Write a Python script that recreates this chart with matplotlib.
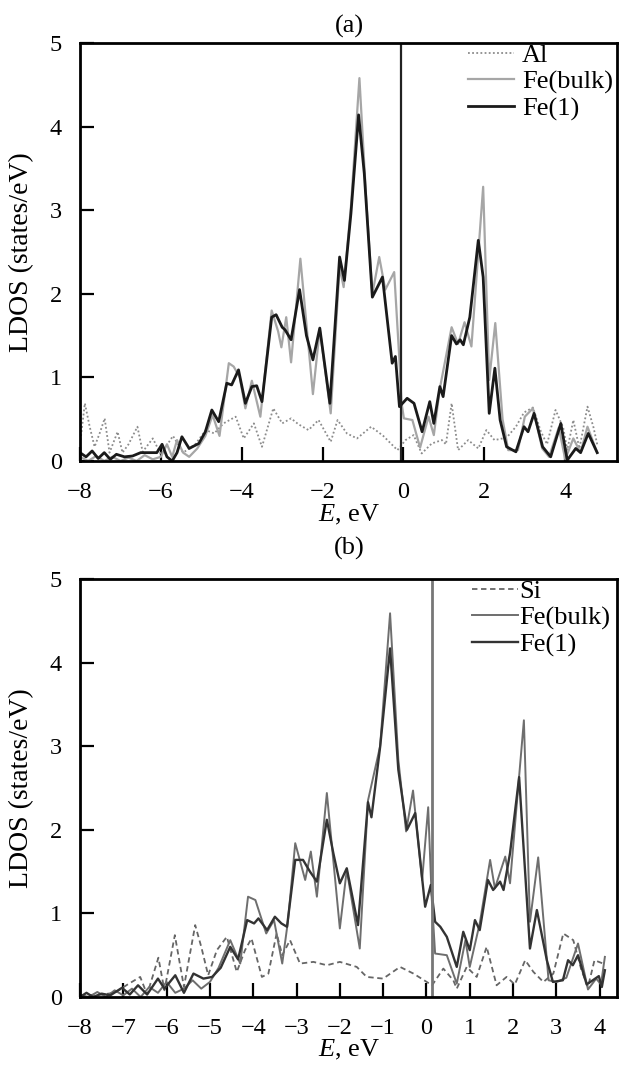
import matplotlib
matplotlib.use('Agg')
import matplotlib.pyplot as plt

plt.rcParams['font.family'] = ['Liberation Serif', 'DejaVu Serif']
plt.rcParams['mathtext.fontset'] = 'custom'
plt.rcParams['mathtext.rm'] = 'Liberation Serif'
plt.rcParams['mathtext.it'] = 'Liberation Serif:italic'

# ---- panel (a): Fe/Al ----
a_fe1_x = [-8.0, -7.85, -7.7, -7.55, -7.4, -7.25, -7.1, -6.9, -6.7, -6.5, -6.3, -6.1, -5.97, -5.85, -5.72,
           -5.6, -5.48, -5.3, -5.06, -4.9, -4.74, -4.57, -4.37, -4.25, -4.08, -3.91, -3.75, -3.63, -3.5,
           -3.26, -3.15, -3.0, -2.93, -2.78, -2.57, -2.4, -2.24, -2.07, -1.82, -1.58, -1.46, -1.3, -1.11,
           -0.97, -0.77, -0.52, -0.28, -0.2, -0.1, 0.09, 0.26, 0.46, 0.65, 0.75, 0.9, 0.98, 1.19, 1.31,
           1.4, 1.48, 1.64, 1.85, 1.97, 2.12, 2.26, 2.39, 2.55, 2.78, 2.98, 3.08, 3.23, 3.44, 3.64, 3.89,
           4.05, 4.26, 4.38, 4.57, 4.79]
a_fe1_y = [0.1, 0.05, 0.12, 0.03, 0.1, 0.02, 0.08, 0.05, 0.06, 0.1, 0.1, 0.1, 0.2, 0.05, 0.0,
           0.1, 0.29, 0.15, 0.21, 0.35, 0.61, 0.47, 0.93, 0.91, 1.09, 0.69, 0.89, 0.9, 0.71,
           1.72, 1.75, 1.6, 1.57, 1.45, 2.05, 1.5, 1.21, 1.59, 0.69, 2.44, 2.16, 2.96, 4.14,
           3.44, 1.96, 2.2, 1.17, 1.25, 0.65, 0.75, 0.69, 0.35, 0.71, 0.45, 0.89, 0.77, 1.5, 1.4,
           1.45, 1.39, 1.72, 2.64, 2.2, 0.57, 1.11, 0.49, 0.17, 0.11, 0.41, 0.35, 0.57, 0.17, 0.05, 0.45,
           0.01, 0.15, 0.1, 0.33, 0.1]

a_bulk_x = [-8.0, -7.8, -7.6, -7.4, -7.2, -7.0, -6.8, -6.6, -6.4, -6.2, -6.0, -5.85, -5.72, -5.6, -5.45,
            -5.3, -5.1, -4.9, -4.72, -4.55, -4.32, -4.2, -4.05, -3.91, -3.75, -3.54, -3.26, -3.1, -3.02,
            -2.9, -2.78, -2.55, -2.24, -2.07, -1.8, -1.58, -1.48, -1.3, -1.09, -0.93, -0.77, -0.6, -0.45,
            -0.23, -0.1, -0.05, 0.01, 0.22, 0.41, 0.62, 0.75, 0.9, 1.19, 1.35, 1.51, 1.68, 1.97, 2.12,
            2.27, 2.45, 2.59, 2.83, 3.0, 3.2, 3.43, 3.6, 3.84, 4.0, 4.2, 4.38, 4.55, 4.79]
a_bulk_y = [0.05, 0.0, 0.06, 0.0, 0.05, 0.0, 0.04, 0.0, 0.07, 0.02, 0.05, 0.2, 0.05, 0.25, 0.1,
            0.05, 0.15, 0.3, 0.55, 0.3, 1.17, 1.13, 1.0, 0.63, 0.96, 0.53, 1.8, 1.55, 1.36,
            1.72, 1.18, 2.42, 0.8, 1.58, 0.57, 2.32, 2.08, 3.04, 4.58, 3.2, 2.0, 2.44, 2.05,
            2.26, 1.2, 0.7, 0.51, 0.49, 0.16, 0.53, 0.31, 0.87, 1.6, 1.4, 1.66, 1.37, 3.28, 0.97,
            1.65, 0.5, 0.13, 0.13, 0.53, 0.63, 0.15, 0.05, 0.4, 0.02, 0.27, 0.1, 0.41, 0.1]

a_al_x = [-8.0, -7.88, -7.76, -7.64, -7.5, -7.39, -7.27, -7.07, -6.95, -6.8, -6.58, -6.45, -6.2, -6.0,
          -5.7, -5.45, -5.15, -4.89, -4.68, -4.45, -4.15, -3.95, -3.7, -3.5, -3.22, -3.0, -2.78, -2.6,
          -2.35, -2.1, -1.8, -1.63, -1.4, -1.15, -0.8, -0.5, -0.15, 0.05, 0.25, 0.45, 0.7, 0.95, 1.05,
          1.19, 1.35, 1.6, 1.85, 2.05, 2.25, 2.55, 2.78, 2.98, 3.2, 3.4, 3.55, 3.76, 3.95, 4.05, 4.2,
          4.35, 4.55, 4.7, 4.79]
a_al_y = [0.2, 0.69, 0.41, 0.17, 0.35, 0.51, 0.1, 0.35, 0.1, 0.2, 0.41, 0.11, 0.27, 0.08,
          0.3, 0.1, 0.2, 0.37, 0.33, 0.45, 0.53, 0.27, 0.45, 0.17, 0.63, 0.45, 0.51, 0.44,
          0.37, 0.49, 0.23, 0.49, 0.33, 0.27, 0.41, 0.3, 0.13, 0.25, 0.31, 0.09, 0.21, 0.25, 0.2,
          0.69, 0.13, 0.25, 0.15, 0.37, 0.25, 0.28, 0.41, 0.58, 0.64, 0.35, 0.2, 0.61, 0.4, 0.13, 0.49,
          0.15, 0.65, 0.4, 0.2]

# ---- panel (b): Fe/Si ----
b_fe1_x = [-8.0, -7.85, -7.7, -7.5, -7.3, -7.03, -6.85, -6.66, -6.45, -6.2, -6.05, -5.8, -5.6, -5.38,
           -5.15, -4.95, -4.75, -4.53, -4.35, -4.14, -3.98, -3.88, -3.68, -3.5, -3.35, -3.22, -3.03,
           -2.85, -2.69, -2.53, -2.3, -2.15, -2.0, -1.84, -1.58, -1.35, -1.27, -1.07, -0.84, -0.65,
           -0.45, -0.26, -0.03, 0.1, 0.2, 0.32, 0.47, 0.7, 0.85, 1.0, 1.12, 1.23, 1.42, 1.54, 1.7,
           1.78, 1.93, 2.14, 2.39, 2.55, 2.78, 2.92, 3.15, 3.27, 3.38, 3.5, 3.7, 3.98, 4.05, 4.12]
b_fe1_y = [0.0, 0.05, 0.0, 0.04, 0.02, 0.11, 0.03, 0.14, 0.03, 0.22, 0.1, 0.26, 0.05, 0.28,
           0.22, 0.24, 0.35, 0.6, 0.45, 0.92, 0.88, 0.94, 0.8, 0.96, 0.88, 0.84, 1.64,
           1.64, 1.5, 1.38, 2.12, 1.72, 1.36, 1.54, 0.86, 2.33, 2.15, 2.99, 4.17, 2.72,
           2.0, 2.2, 1.08, 1.34, 0.9, 0.84, 0.72, 0.36, 0.78, 0.56, 0.92, 0.8, 1.4, 1.28, 1.38,
           1.28, 1.72, 2.63, 0.58, 1.04, 0.44, 0.18, 0.2, 0.44, 0.38, 0.5, 0.15, 0.25, 0.12, 0.32]

b_bulk_x = [-8.0, -7.8, -7.6, -7.4, -7.2, -7.0, -6.8, -6.6, -6.4, -6.2, -6.0, -5.8, -5.6, -5.4, -5.2,
            -5.0, -4.8, -4.53, -4.3, -4.12, -3.95, -3.7, -3.52, -3.33, -3.2, -3.03, -2.8, -2.67, -2.53,
            -2.3, -2.0, -1.84, -1.54, -1.35, -1.07, -0.84, -0.65, -0.47, -0.31, -0.1, 0.04, 0.12, 0.2,
            0.47, 0.7, 0.9, 1.0, 1.23, 1.47, 1.58, 1.82, 1.93, 2.25, 2.39, 2.58, 2.82, 3.0, 3.23, 3.5,
            3.73, 3.92, 4.03, 4.12]
b_bulk_y = [0.02, 0.0, 0.06, 0.0, 0.08, 0.02, 0.1, 0.0, 0.12, 0.05, 0.18, 0.05, 0.1, 0.2, 0.1,
            0.18, 0.35, 0.68, 0.4, 1.2, 1.16, 0.76, 0.92, 0.4, 0.9, 1.84, 1.4, 1.74, 1.2,
            2.44, 0.82, 1.52, 0.58, 2.35, 3.0, 4.59, 2.84, 1.98, 2.47, 1.4, 2.27, 1.2, 0.52,
            0.5, 0.16, 0.68, 0.36, 0.88, 1.64, 1.3, 1.68, 1.36, 3.31, 0.9, 1.67, 0.2, 0.18, 0.23, 0.64,
            0.09, 0.22, 0.15, 0.48]

b_si_x = [-8.0, -7.5, -7.2, -6.9, -6.61, -6.45, -6.19, -6.05, -5.81, -5.6, -5.34, -5.2, -5.04, -4.84,
          -4.61, -4.38, -4.19, -4.04, -3.8, -3.65, -3.46, -3.33, -3.15, -2.92, -2.61, -2.3, -2.0, -1.61,
          -1.38, -1.0, -0.61, -0.3, 0.13, 0.39, 0.62, 0.7, 0.93, 1.16, 1.39, 1.62, 1.85, 2.04, 2.28,
          2.47, 2.7, 2.93, 3.16, 3.39, 3.58, 3.73, 3.88, 4.08]
b_si_y = [0.02, 0.03, 0.05, 0.15, 0.24, 0.03, 0.47, 0.08, 0.74, 0.12, 0.86, 0.6, 0.26, 0.56,
          0.72, 0.3, 0.56, 0.7, 0.24, 0.28, 0.76, 0.5, 0.68, 0.4, 0.42, 0.38, 0.42, 0.36,
          0.24, 0.22, 0.36, 0.28, 0.14, 0.34, 0.2, 0.1, 0.36, 0.24, 0.6, 0.14, 0.24, 0.15, 0.44,
          0.3, 0.18, 0.28, 0.76, 0.68, 0.32, 0.12, 0.44, 0.4]

fermi_a = -0.05
fermi_b = 0.12

fig = plt.figure(figsize=(6.22, 10.65), dpi=100)
W, H = 622, 1065


def px_axes(l, t, r, b):
    return [l / W, 1 - b / H, (r - l) / W, (b - t) / H]


ax1 = fig.add_axes(px_axes(80, 43, 617, 461))
ax2 = fig.add_axes(px_axes(80, 579, 617, 997))

ax1.plot(a_al_x, a_al_y, color='#8c8c8c', ls=(0, (1, 1.3)), lw=1.3, label='Al')
ax1.plot(a_bulk_x, a_bulk_y, color='#a6a6a6', lw=1.6, label='Fe(bulk)')
ax1.plot(a_fe1_x, a_fe1_y, color='#1a1a1a', lw=2.0, label='Fe(1)')
ax1.axvline(fermi_a, color='#222222', lw=1.6)
ax1.set_xlim(-8, 5.28)
ax1.set_xticks([-8, -6, -4, -2, 0, 2, 4])

ax2.plot(b_si_x, b_si_y, color='#666666', ls=(0, (3, 2)), lw=1.3, label='Si')
ax2.plot(b_bulk_x, b_bulk_y, color='#6e6e6e', lw=1.4, label='Fe(bulk)')
ax2.plot(b_fe1_x, b_fe1_y, color='#333333', lw=1.7, label='Fe(1)')
ax2.axvline(fermi_b, color='#777777', lw=2.0)
ax2.set_xlim(-8, 4.4)
ax2.set_xticks(list(range(-8, 5)))

for ax in (ax1, ax2):
    ax.set_ylim(0, 5)
    ax.set_yticks([0, 1, 2, 3, 4, 5])
    ax.tick_params(direction='in', length=10, width=1.6, labelsize=17.5, pad=15,
                   top=False, right=False)
    ax.tick_params(axis='y', pad=13)
    for s in ax.spines.values():
        s.set_linewidth(2.0)
    ax.set_xticklabels([str(t).replace('-', '\u2212') for t in ax.get_xticks().astype(int)])

leg_kw = dict(bbox_transform=fig.transFigure, loc='upper left', frameon=False, fontsize=19,
              borderpad=0, borderaxespad=0, handlelength=1.75, labelspacing=0.1)
ax1.legend(bbox_to_anchor=(468 / W, 1 - 44 / H), handletextpad=0.3, **leg_kw)
ax2.legend(bbox_to_anchor=(472 / W, 1 - 580 / H), handletextpad=0.05, **leg_kw)

fig.text(349 / W, 1 - 26 / H, '(a)', ha='center', va='center', fontsize=19)
fig.text(349 / W, 1 - 548 / H, '(b)', ha='center', va='center', fontsize=19)
fig.text(349 / W, 1 - 515 / H, r'$\mathit{E}$, eV', ha='center', va='center', fontsize=19)
fig.text(349 / W, 1 - 1050 / H, r'$\mathit{E}$, eV', ha='center', va='center', fontsize=19)
fig.text(22 / W, 1 - 252 / H, 'LDOS (states/eV)', ha='center', va='center', rotation=90, fontsize=20)
fig.text(22 / W, 1 - 788 / H, 'LDOS (states/eV)', ha='center', va='center', rotation=90, fontsize=20)

fig.savefig('out.png', dpi=100)
